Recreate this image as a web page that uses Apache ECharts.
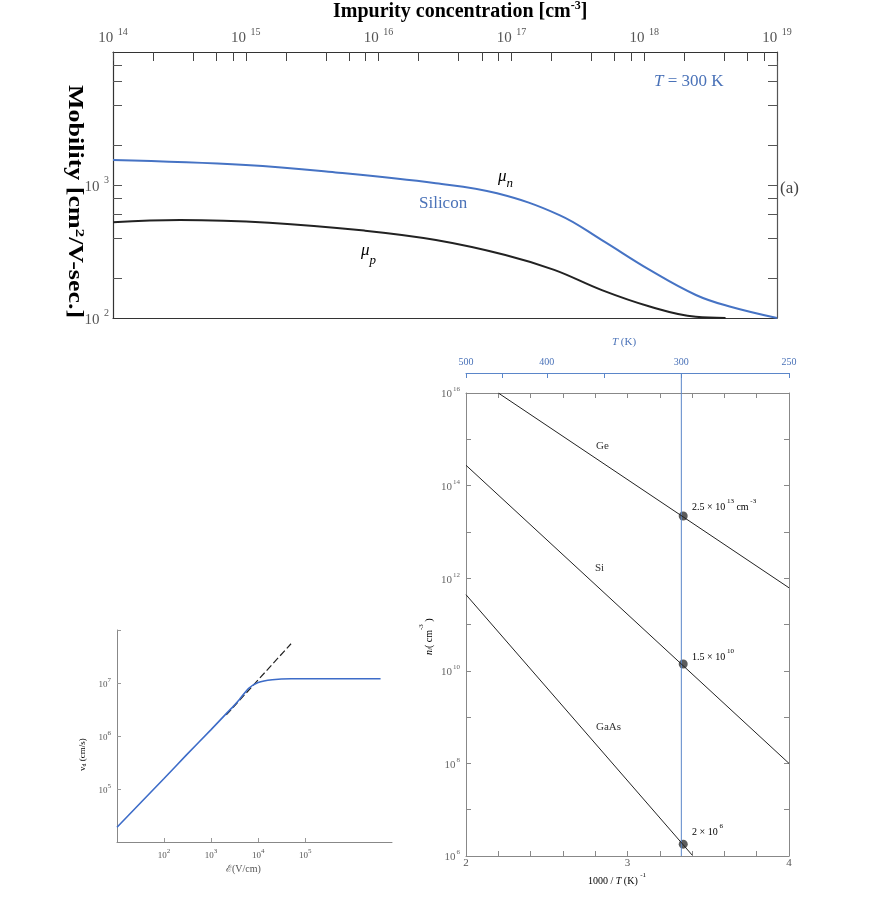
<!DOCTYPE html>
<html><head><meta charset="utf-8">
<script src="https://cdn.jsdelivr.net/npm/echarts@6/dist/echarts.min.js"></script>
<style>html,body{margin:0;padding:0;background:#fff}#c{width:874px;height:901px}</style>
</head><body><div id="c"></div>
<script>
// ---------- data: panel (a) mobility vs impurity concentration ----------
const concN = [1e14, 1e15, 5e15, 2.7e16, 7.8e16, 2.3e17, 4.8e17, 1.1e18, 2.45e18, 4.4e18, 1e19];
const muN   = [1540, 1413, 1237, 1031, 866, 594, 385, 230, 149, 122, 100];
const concP = [1e14, 3.2e14, 1.5e15, 7.8e15, 2.7e16, 9e16, 2.1e17, 4.8e17, 1.1e18, 2.45e18, 4.1e18];
const muP   = [524, 546, 521, 454, 386, 298, 230, 162, 122, 102, 100];
const concDecades = [14, 15, 16, 17, 18, 19];
const mobilityTickValues = [200, 400, 600, 800, 1000, 2000, 4000, 6000, 8000];
const mobilityLabelExps = [2, 3];

// ---------- data: intrinsic carrier concentration vs 1000/T ----------
const invT_Ge = [2.2, 4];     const ni_Ge = [1e16, 6.2e11];
const invT_Si = [2, 4];       const ni_Si = [2.75e14, 1e8];
const invT_GaAs = [2, 3.4];   const ni_GaAs = [4.4e11, 1.05e6];
const invT_300 = [3.345, 3.345, 3.345];
const ni_300 = [2.2e13, 1.4e10, 1.8e6];
const tempTicks = [500, 450, 400, 350, 300, 250];
const tempLabels = [500, 400, 300, 250];
const invTTicks = [2, 2.2, 2.4, 2.6, 2.8, 3, 3.2, 3.4, 3.6, 3.8, 4];
const invTLabels = [2, 3, 4];
const niLabelExps = [6, 8, 10, 12, 14, 16];
const niTickExps = [6, 7, 8, 9, 10, 11, 12, 13, 14, 15, 16];
const T300 = 300;

// ---------- data: drift velocity vs field ----------
const field  = [10, 100, 300, 1000, 2100, 3000, 4000, 6300, 1e4, 2e4, 5e4, 4e6];
const vDrift = [1.9e4, 1.58e5, 4.4e5, 1.32e6, 2.64e6, 3.66e6, 4.9e6, 7.9e6, 1.02e7, 1.15e7, 1.2e7, 1.2e7];
const fieldOhmic = [2100, 5e4];
const vOhmic = [2.5e6, 5.5e7];
const fieldLabelExps = [2, 3, 4, 5];
const vLabelExps = [5, 6, 7];
const vTickExps = [5, 6, 7, 8];

const zip = (a, b) => a.map((v, i) => [v, b[i]]);
const L10 = Math.log10;
const SERIF = "'Liberation Serif','DejaVu Serif',serif";

const topTicks = [];
concDecades.forEach(e => {
  topTicks.push(e);
  if (e < 19) [2, 4, 6, 8].forEach(m => topTicks.push(e + L10(m)));
});

function supRich(bs, ss, color, raise, pad) {
  return {
    b: {fontSize: bs, fontFamily: SERIF, color: color, lineHeight: bs + raise, verticalAlign: 'bottom'},
    s: {fontSize: ss, fontFamily: SERIF, color: color, lineHeight: bs + raise, verticalAlign: 'top', padding: [0, 0, 0, pad]}
  };
}

const chart = echarts.init(document.getElementById('c'), null, {renderer: 'canvas'});
const noSplit = {show: false};
const hideAxis = {axisLine: {show: false}, axisTick: {show: false}, axisLabel: {show: false}, splitLine: noSplit};
const BLUE = '#4673c4';

const option = {
  animation: false,
  backgroundColor: '#fff',
  grid: [
    {left: 113, top: 52, width: 664, height: 266},
    {left: 466, top: 393, width: 323, height: 463},
    {left: 466, top: 373, width: 323, height: 483},
    {left: 117, top: 630, width: 275, height: 212}
  ],
  xAxis: [
    {gridIndex: 0, type: 'log', min: 1e14, max: 1e19, position: 'bottom',
     axisLine: {show: true, onZero: false, lineStyle: {color: '#333', width: 1.2}},
     axisTick: {show: false}, axisLabel: {show: false}, splitLine: noSplit},
    {gridIndex: 0, type: 'value', min: 14, max: 19, position: 'top',
     axisLine: {show: true, onZero: false, lineStyle: {color: '#333', width: 1.2}},
     axisTick: {show: true, inside: true, length: 9, customValues: topTicks, lineStyle: {color: '#444'}},
     axisLabel: {show: true, customValues: concDecades, margin: 6,
       formatter: v => '{b|10}{s| ' + v + '}', rich: supRich(15, 10, '#555', 4, 2)},
     splitLine: noSplit},
    {gridIndex: 1, type: 'value', min: 2, max: 4, position: 'bottom',
     axisLine: {show: true, onZero: false, lineStyle: {color: '#888'}},
     axisTick: {show: true, inside: true, length: 5, customValues: invTTicks, lineStyle: {color: '#888'}},
     axisLabel: {show: true, customValues: invTLabels, margin: 2, color: '#555', fontFamily: SERIF, fontSize: 11},
     splitLine: noSplit},
    {gridIndex: 1, type: 'value', min: 2, max: 4, position: 'top',
     axisLine: {show: true, onZero: false, lineStyle: {color: '#888'}},
     axisTick: {show: true, inside: true, length: 5, customValues: invTTicks, lineStyle: {color: '#888'}},
     axisLabel: {show: false}, splitLine: noSplit},
    {gridIndex: 2, type: 'value', min: 2, max: 4, position: 'top',
     axisLine: {show: true, onZero: false, lineStyle: {color: '#5b86c9'}},
     axisTick: {show: true, inside: true, length: 5, customValues: tempTicks.map(t => 1000 / t), lineStyle: {color: '#5b86c9'}},
     axisLabel: {show: true, customValues: tempLabels.map(t => 1000 / t), margin: 6,
       formatter: v => String(Math.round(1000 / v)), color: '#4a72b8', fontFamily: SERIF, fontSize: 10},
     splitLine: noSplit},
    {gridIndex: 3, type: 'log', min: 10, max: 7e6, position: 'bottom',
     axisLine: {show: true, onZero: false, lineStyle: {color: '#888'}},
     axisTick: {show: false}, axisLabel: {show: false}, splitLine: noSplit},
    {gridIndex: 3, type: 'value', min: 1, max: L10(7e6), position: 'bottom',
     axisLine: {show: false},
     axisTick: {show: true, inside: true, length: 4, customValues: fieldLabelExps, lineStyle: {color: '#999'}},
     axisLabel: {show: true, customValues: fieldLabelExps, margin: 6,
       formatter: v => '{b|10}{s|' + v + '}', rich: supRich(9, 7, '#555', 3, 0)},
     splitLine: noSplit}
  ],
  yAxis: [
    {gridIndex: 0, type: 'log', min: 100, max: 1e4, position: 'left',
     axisLine: {show: true, onZero: false, lineStyle: {color: '#333', width: 1.2}},
     axisTick: {show: false}, axisLabel: {show: false}, splitLine: noSplit},
    {gridIndex: 0, type: 'value', min: 2, max: 4, position: 'left',
     axisLine: {show: false},
     axisTick: {show: true, inside: true, length: 9, customValues: mobilityTickValues.map(L10), lineStyle: {color: '#555'}},
     axisLabel: {show: true, customValues: mobilityLabelExps, margin: 4,
       formatter: v => '{b|10}{s| ' + v + '}', rich: supRich(15, 10, '#555', 4, 2)},
     splitLine: noSplit},
    {gridIndex: 0, type: 'value', min: 2, max: 4, position: 'right',
     axisLine: {show: true, onZero: false, lineStyle: {color: '#555', width: 1.2}},
     axisTick: {show: true, inside: true, length: 9, customValues: mobilityTickValues.map(L10), lineStyle: {color: '#555'}},
     axisLabel: {show: false}, splitLine: noSplit},
    {gridIndex: 1, type: 'log', min: 1e6, max: 1e16, position: 'left',
     axisLine: {show: true, onZero: false, lineStyle: {color: '#888'}},
     axisTick: {show: false}, axisLabel: {show: false}, splitLine: noSplit},
    {gridIndex: 1, type: 'value', min: 6, max: 16, position: 'left',
     axisLine: {show: false},
     axisTick: {show: true, inside: true, length: 5, customValues: niTickExps, lineStyle: {color: '#888'}},
     axisLabel: {show: true, customValues: niLabelExps, margin: 6,
       formatter: v => '{b|10}{s|' + v + '}', rich: supRich(11, 7, '#666', 3, 1)},
     splitLine: noSplit},
    {gridIndex: 1, type: 'value', min: 6, max: 16, position: 'right',
     axisLine: {show: true, onZero: false, lineStyle: {color: '#888'}},
     axisTick: {show: true, inside: true, length: 5, customValues: niTickExps, lineStyle: {color: '#888'}},
     axisLabel: {show: false}, splitLine: noSplit},
    Object.assign({gridIndex: 2, type: 'value', min: 0, max: 1}, hideAxis),
    {gridIndex: 3, type: 'log', min: 1e4, max: 1e8, position: 'left',
     axisLine: {show: true, onZero: false, lineStyle: {color: '#888'}},
     axisTick: {show: false}, axisLabel: {show: false}, splitLine: noSplit},
    {gridIndex: 3, type: 'value', min: 4, max: 8, position: 'left',
     axisLine: {show: false},
     axisTick: {show: true, inside: true, length: 4, customValues: vTickExps, lineStyle: {color: '#999'}},
     axisLabel: {show: true, customValues: vLabelExps, margin: 6,
       formatter: v => '{b|10}{s|' + v + '}', rich: supRich(9, 7, '#555', 3, 0)},
     splitLine: noSplit}
  ],
  series: [
    {type: 'line', xAxisIndex: 0, yAxisIndex: 0, data: zip(concN, muN), smooth: 0.4, showSymbol: false,
     lineStyle: {color: BLUE, width: 2}},
    {type: 'line', xAxisIndex: 0, yAxisIndex: 0, data: zip(concP, muP), smooth: 0.4, showSymbol: false,
     lineStyle: {color: '#222', width: 2}},
    {type: 'line', xAxisIndex: 4, yAxisIndex: 6, data: [[1000 / T300, 0], [1000 / T300, 1]], showSymbol: false,
     lineStyle: {color: '#5b86c9', width: 1}},
    {type: 'line', xAxisIndex: 2, yAxisIndex: 3, data: zip(invT_Ge, ni_Ge), showSymbol: false,
     lineStyle: {color: '#222', width: 1}},
    {type: 'line', xAxisIndex: 2, yAxisIndex: 3, data: zip(invT_Si, ni_Si), showSymbol: false,
     lineStyle: {color: '#222', width: 1}},
    {type: 'line', xAxisIndex: 2, yAxisIndex: 3, data: zip(invT_GaAs, ni_GaAs), showSymbol: false,
     lineStyle: {color: '#222', width: 1}},
    {type: 'scatter', xAxisIndex: 2, yAxisIndex: 3, data: zip(invT_300, ni_300), symbolSize: 9,
     itemStyle: {color: '#333'}},
    {type: 'line', xAxisIndex: 5, yAxisIndex: 7, data: zip(fieldOhmic, vOhmic), showSymbol: false,
     lineStyle: {color: '#222', width: 1.2, type: [7, 3]}},
    {type: 'line', xAxisIndex: 5, yAxisIndex: 7, data: zip(field, vDrift), smooth: 0.2, showSymbol: false,
     lineStyle: {color: '#3d6cc8', width: 1.6}}
  ],
  graphic: [
    {type: 'text', x: 333, y: 0, z: 10,
     style: {text: '{t|Impurity concentration [cm}{u|-3}{t|]}',
       rich: {t: {fontSize: 20, fontWeight: 'bold', fontFamily: SERIF, color: '#111', lineHeight: 22, verticalAlign: 'bottom'},
              u: {fontSize: 12, fontWeight: 'bold', fontFamily: SERIF, color: '#111', lineHeight: 22, verticalAlign: 'top'}}}},
    {type: 'text', x: 86, y: 85, rotation: -Math.PI / 2, scaleX: 1.3, z: 10,
     style: {text: '{t|Mobility [cm}{u|2}{t|/V-sec.]}',
       rich: {t: {fontSize: 20, fontWeight: 'bold', fontFamily: SERIF, color: '#111', lineHeight: 22, verticalAlign: 'bottom'},
              u: {fontSize: 13, fontWeight: 'bold', fontFamily: SERIF, color: '#111', lineHeight: 22, verticalAlign: 'top'}}}},
    {type: 'text', x: 654, y: 73,
     style: {text: '{i|T} = 300 K', fill: '#4a72b8', font: '17px ' + SERIF,
       rich: {i: {fontStyle: 'italic', fontSize: 17, fontFamily: SERIF, color: '#4a72b8'}}}},
    {type: 'text', x: 780, y: 180, style: {text: '(a)', fill: '#444', font: '17px ' + SERIF}},
    {type: 'text', x: 498, y: 168,
     style: {text: '{m|μ}{n|n}', rich: {m: {fontSize: 17, fontStyle: 'italic', fontFamily: SERIF, color: '#4a72b8', lineHeight: 20, verticalAlign: 'top'},
       n: {fontSize: 13, fontStyle: 'italic', fontFamily: SERIF, color: '#4a72b8', lineHeight: 22, verticalAlign: 'bottom'}}}},
    {type: 'text', x: 419, y: 195, style: {text: 'Silicon', fill: '#4a72b8', font: '17px ' + SERIF}},
    {type: 'text', x: 361, y: 242,
     style: {text: '{m|μ}{n|p}', rich: {m: {fontSize: 17, fontStyle: 'italic', fontFamily: SERIF, color: '#222', lineHeight: 20, verticalAlign: 'top'},
       n: {fontSize: 13, fontStyle: 'italic', fontFamily: SERIF, color: '#222', lineHeight: 25, verticalAlign: 'bottom'}}}},
    {type: 'text', x: 612, y: 337,
     style: {text: '{i|T} (K)', fill: '#4a72b8', font: '11px ' + SERIF,
       rich: {i: {fontStyle: 'italic', fontSize: 11, fontFamily: SERIF, color: '#4a72b8'}}}},
    {type: 'text', x: 596, y: 441, style: {text: 'Ge', fill: '#333', font: '11px ' + SERIF}},
    {type: 'text', x: 595, y: 563, style: {text: 'Si', fill: '#333', font: '11px ' + SERIF}},
    {type: 'text', x: 596, y: 722, style: {text: 'GaAs', fill: '#333', font: '11px ' + SERIF}},
    {type: 'text', x: 692, y: 498,
     style: {text: '{t|2.5 × 10}{s| 13}{t| cm}{s| -3}', rich: {
       t: {fontSize: 10, fontFamily: SERIF, color: '#444', lineHeight: 14, verticalAlign: 'bottom'},
       s: {fontSize: 7, fontFamily: SERIF, color: '#444', lineHeight: 14, verticalAlign: 'top'}}}},
    {type: 'text', x: 692, y: 648,
     style: {text: '{t|1.5 × 10}{s| 10}', rich: {
       t: {fontSize: 10, fontFamily: SERIF, color: '#444', lineHeight: 14, verticalAlign: 'bottom'},
       s: {fontSize: 7, fontFamily: SERIF, color: '#444', lineHeight: 14, verticalAlign: 'top'}}}},
    {type: 'text', x: 692, y: 823,
     style: {text: '{t|2 × 10}{s| 6}', rich: {
       t: {fontSize: 10, fontFamily: SERIF, color: '#444', lineHeight: 14, verticalAlign: 'bottom'},
       s: {fontSize: 7, fontFamily: SERIF, color: '#444', lineHeight: 14, verticalAlign: 'top'}}}},
    {type: 'text', x: 418, y: 655, rotation: Math.PI / 2,
     style: {text: '{i|n}{j|i}{t|( cm}{s|-3}{t| )}', rich: {
       i: {fontSize: 10, fontStyle: 'italic', fontFamily: SERIF, color: '#444', lineHeight: 14, verticalAlign: 'bottom'},
       j: {fontSize: 7, fontStyle: 'italic', fontFamily: SERIF, color: '#444', lineHeight: 16, verticalAlign: 'bottom'},
       t: {fontSize: 10, fontFamily: SERIF, color: '#444', lineHeight: 14, verticalAlign: 'bottom'},
       s: {fontSize: 7, fontFamily: SERIF, color: '#444', lineHeight: 14, verticalAlign: 'top'}}}},
    {type: 'text', x: 588, y: 872,
     style: {text: '{t|1000 / }{i|T}{t| (K) }{s|-1}', rich: {
       t: {fontSize: 10, fontFamily: SERIF, color: '#444', lineHeight: 14, verticalAlign: 'bottom'},
       i: {fontSize: 10, fontStyle: 'italic', fontFamily: SERIF, color: '#444', lineHeight: 14, verticalAlign: 'bottom'},
       s: {fontSize: 7, fontFamily: SERIF, color: '#444', lineHeight: 14, verticalAlign: 'top'}}}},
    {type: 'text', x: 73, y: 771, rotation: Math.PI / 2,
     style: {text: '{t|v}{d|d}{t| (cm/s)}', rich: {
       t: {fontSize: 9, fontFamily: SERIF, color: '#555', lineHeight: 12, verticalAlign: 'bottom'},
       d: {fontSize: 6, fontFamily: SERIF, color: '#555', lineHeight: 14, verticalAlign: 'bottom'}}}},
    {type: 'text', x: 226, y: 864, style: {text: 'ℰ(V/cm)', fill: '#555', font: '10px ' + SERIF}}
  ]
};
chart.setOption(option);
</script></body></html>
